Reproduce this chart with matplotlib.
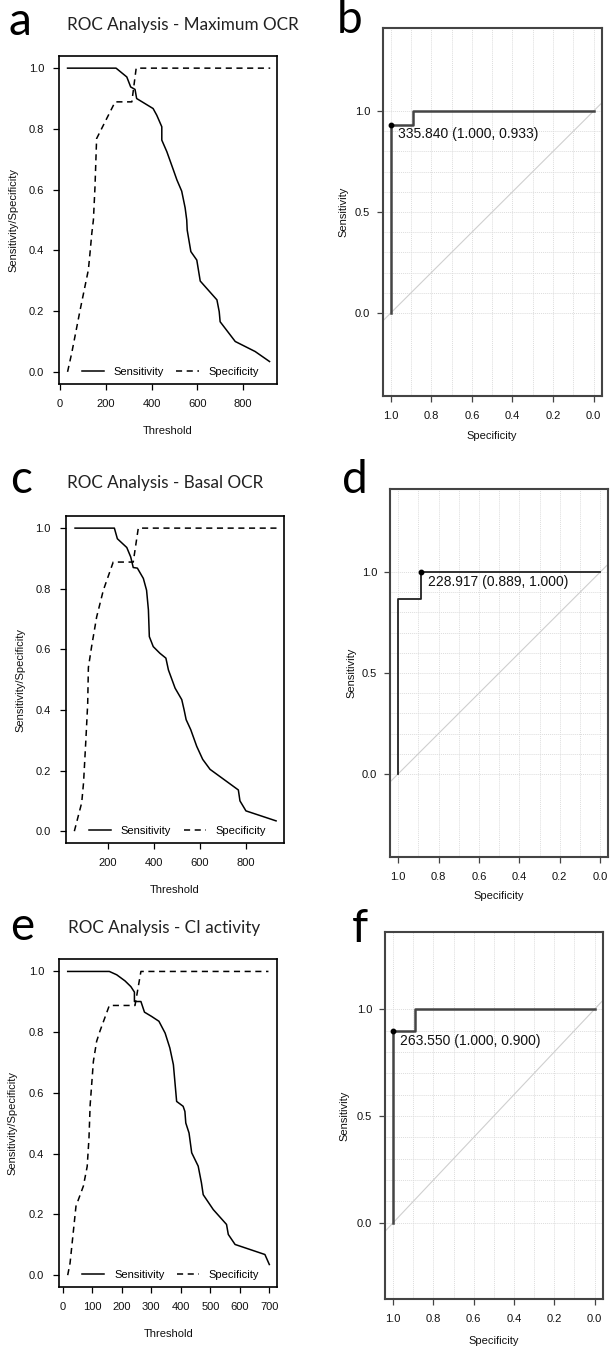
import matplotlib
matplotlib.use("Agg")
import matplotlib.pyplot as plt
import numpy as np

# ---------------- data ----------------
# Panel a: Maximum OCR
a_sens_thr = [33, 245, 292, 309, 328, 335, 407, 423, 445, 445, 467, 496, 511, 532, 547, 554, 556, 572, 598, 613, 686, 696, 700, 766, 853, 916]
a_sens = [1.0, 1.0, 0.971, 0.938, 0.93, 0.9, 0.867, 0.845, 0.807, 0.763, 0.725, 0.664, 0.632, 0.595, 0.54, 0.5, 0.467, 0.396, 0.368, 0.299, 0.237, 0.198, 0.165, 0.1, 0.067, 0.034]
a_spec_thr = [33, 51, 88, 109, 124, 131, 139, 146, 153, 160, 168, 241, 314, 333, 919]
a_spec = [0.0, 0.061, 0.204, 0.281, 0.336, 0.39, 0.456, 0.5, 0.61, 0.768, 0.78, 0.889, 0.889, 1.0, 1.0]

# Panel c: Basal OCR
c_sens_thr = [58, 229, 242, 283, 300, 311, 329, 355, 369, 377, 381, 398, 427, 453, 464, 493, 522, 532, 541, 561, 587, 613, 645, 768, 775, 801, 932]
c_sens = [1.0, 1.0, 0.965, 0.936, 0.905, 0.87, 0.868, 0.834, 0.795, 0.73, 0.642, 0.609, 0.587, 0.571, 0.532, 0.472, 0.434, 0.401, 0.368, 0.335, 0.28, 0.237, 0.204, 0.136, 0.1, 0.067, 0.034]
c_spec_thr = [55, 87, 95, 105, 113, 116, 130, 152, 181, 224, 311, 333, 935]
c_spec = [0.0, 0.094, 0.16, 0.3, 0.42, 0.54, 0.609, 0.707, 0.795, 0.888, 0.888, 1.0, 1.0]

# Panel e: CI activity
e_sens_thr = [17, 158, 183, 211, 231, 243, 243, 265, 277, 301, 326, 347, 363, 375, 386, 408, 414, 417, 428, 437, 459, 470, 476, 510, 555, 561, 584, 685, 700]
e_sens = [1.0, 1.0, 0.989, 0.969, 0.95, 0.932, 0.901, 0.901, 0.866, 0.852, 0.836, 0.797, 0.748, 0.693, 0.572, 0.556, 0.539, 0.501, 0.468, 0.403, 0.359, 0.304, 0.265, 0.216, 0.167, 0.134, 0.101, 0.068, 0.035]
e_spec_thr = [17, 25, 45, 70, 83, 89, 93, 104, 115, 126, 158, 245, 265, 697]
e_spec = [0.0, 0.04, 0.227, 0.293, 0.358, 0.45, 0.56, 0.704, 0.77, 0.803, 0.888, 0.888, 1.0, 1.0]

# ROC curves (specificity, sensitivity)
b_roc_spec = [1.0, 1.0, 0.889, 0.889, 0.0]
b_roc_sens = [0.0, 0.933, 0.933, 1.0, 1.0]
d_roc_spec = [1.0, 1.0, 0.889, 0.889, 0.0]
d_roc_sens = [0.0, 0.867, 0.867, 1.0, 1.0]
f_roc_spec = [1.0, 1.0, 0.889, 0.889, 0.0]
f_roc_sens = [0.0, 0.9, 0.9, 1.0, 1.0]

b_best = (1.000, 0.933, "335.840 (1.000, 0.933)")
d_best = (0.889, 1.000, "228.917 (0.889, 1.000)")
f_best = (1.000, 0.900, "263.550 (1.000, 0.900)")

titles = ["ROC Analysis - Maximum OCR", "ROC Analysis - Basal OCR", "ROC Analysis - CI activity"]
letters = ["a", "b", "c", "d", "e", "f"]

# ---------------- figure ----------------
W, H = 610, 1347
fig = plt.figure(figsize=(W / 100, H / 100), dpi=100)
fig.patch.set_facecolor("white")

TICKFONT = "Liberation Sans"
GOTHIC = "Lato"


def px_axes(left, top, right, bottom):
    return fig.add_axes([left / W, 1 - bottom / H, (right - left) / W, (bottom - top) / H])


def style_r(ax, color="black", lw=1.2):
    for s in ax.spines.values():
        s.set_color(color)
        s.set_linewidth(lw)
    ax.tick_params(direction="out", length=4.3, width=0.9, color=color,
                   labelsize=8, labelcolor="#111111", pad=6.5)
    for lab in ax.get_xticklabels() + ax.get_yticklabels():
        lab.set_fontfamily(TICKFONT)


def thr_panel(ax, sthr, sens, pthr, spec, xlim, xticks, xlab_y, ylab_x, leg_x):
    ax.plot(sthr, sens, color="black", lw=1.1, label="Sensitivity")
    ax.plot(pthr, spec, color="black", lw=1.1, ls=(0, (4, 3)), label="Specificity")
    ax.set_xlim(*xlim)
    ax.set_ylim(-0.04, 1.04)
    ax.set_xticks(xticks)
    ax.set_yticks([0.0, 0.2, 0.4, 0.6, 0.8, 1.0])
    ax.set_yticklabels(["0.0", "0.2", "0.4", "0.6", "0.8", "1.0"])
    style_r(ax, "black", 1.2)
    ax.set_xlabel("Threshold", fontsize=8, family=TICKFONT, color="#111111")
    ax.xaxis.label.set_va("center")
    ax.xaxis.set_label_coords(0.5, xlab_y)
    ax.set_ylabel("Sensitivity/Specificity", fontsize=8, family=TICKFONT, color="#111111")
    ax.yaxis.label.set_va("center")
    ax.yaxis.set_label_coords(ylab_x, 0.5)
    ax.legend(loc="center", bbox_to_anchor=(leg_x, 0.037), ncol=2, frameon=False,
              prop={"family": TICKFONT, "size": 8}, handlelength=2.0,
              handletextpad=0.9, columnspacing=1.1, borderpad=0, borderaxespad=0)


def roc_panel(ax, rspec, rsens, best, ylim, xlab_y, ylab_x, col, lw):
    ax.set_xlim(1.04, -0.04)
    ax.set_ylim(*ylim)
    grid_vals = np.round(np.arange(0, 1.01, 0.1), 1)
    for g in grid_vals:
        ax.axvline(g, color="#DDDDDD", lw=0.7, ls=(0, (1, 1)), zorder=0)
        ax.axhline(g, color="#DDDDDD", lw=0.7, ls=(0, (1, 1)), zorder=0)
    ax.axline((1.0, 0.0), (0.0, 1.0), color="#CFCFCF", lw=0.8, zorder=1)
    ax.plot(rspec, rsens, color=col, lw=lw, zorder=3)
    ax.plot([best[0]], [best[1]], "o", color="black", ms=3.2, zorder=4)
    ax.text(best[0] - 0.035, best[1] - 0.048, best[2], fontsize=10, family=TICKFONT,
            color="#111111", ha="left", va="center", zorder=5)
    ax.set_xticks([1.0, 0.8, 0.6, 0.4, 0.2, 0.0])
    ax.set_xticklabels(["1.0", "0.8", "0.6", "0.4", "0.2", "0.0"])
    ax.set_yticks([0.0, 0.5, 1.0])
    ax.set_yticklabels(["0.0", "0.5", "1.0"])
    style_r(ax, "#444444", 1.5)
    ax.tick_params(axis="y", pad=4.8)
    ax.set_xlabel("Specificity", fontsize=8, family=TICKFONT, color="#111111")
    ax.xaxis.label.set_va("center")
    ax.xaxis.set_label_coords(0.5, xlab_y)
    ax.set_ylabel("Sensitivity", fontsize=8, family=TICKFONT, color="#111111")
    ax.yaxis.label.set_va("center")
    ax.yaxis.set_label_coords(ylab_x, 0.5)


ax_a = px_axes(59, 56, 277, 384)
thr_panel(ax_a, a_sens_thr, a_sens, a_spec_thr, a_spec, (-4.4, 948.6),
          [0, 200, 400, 600, 800], -0.142, -0.211, 0.511)

ax_c = px_axes(65.7, 516, 284, 843.3)
thr_panel(ax_c, c_sens_thr, c_sens, c_spec_thr, c_spec, (17.4, 966.5),
          [200, 400, 600, 800], -0.143, -0.209, 0.512)

ax_e = px_axes(59, 959.3, 277.3, 1287.3)
thr_panel(ax_e, e_sens_thr, e_sens, e_spec_thr, e_spec, (-12.5, 727),
          [0, 100, 200, 300, 400, 500, 600, 700], -0.143, -0.211, 0.511)

ax_b = px_axes(382.7, 28.3, 601.7, 395.7)
roc_panel(ax_b, b_roc_spec, b_roc_sens, b_best, (-0.41, 1.41), -0.11, -0.181, "#444444", 1.8)

ax_d = px_axes(390, 489.3, 608.3, 856.7)
roc_panel(ax_d, d_roc_spec, d_roc_sens, d_best, (-0.41, 1.41), -0.107, -0.175, "#222222", 1.3)

ax_f = px_axes(385, 932, 602.7, 1299.3)
roc_panel(ax_f, f_roc_spec, f_roc_sens, f_best, (-0.358, 1.361), -0.114, -0.184, "#444444", 1.8)

# titles and panel letters (pixel positions)
def ftext(x, y, s, **kw):
    fig.text(x / W, 1 - y / H, s, **kw)

ftext(67, 25, titles[0], fontsize=12.3, family=GOTHIC, color="#222222", ha="left", va="center")
ftext(67, 483, titles[1], fontsize=12.3, family=GOTHIC, color="#222222", ha="left", va="center")
ftext(68, 928, titles[2], fontsize=12.3, family=GOTHIC, color="#222222", ha="left", va="center")

ftext(8, 35, letters[0], fontsize=33, family=GOTHIC, color="black", ha="left", va="baseline")
ftext(337, 33, letters[1], fontsize=33, family=GOTHIC, color="black", ha="left", va="baseline")
ftext(10, 493, letters[2], fontsize=33, family=GOTHIC, color="black", ha="left", va="baseline")
ftext(342, 493, letters[3], fontsize=33, family=GOTHIC, color="black", ha="left", va="baseline")
ftext(10, 940, letters[4], fontsize=33, family=GOTHIC, color="black", ha="left", va="baseline")
ftext(352, 942, letters[5], fontsize=33, family=GOTHIC, color="black", ha="left", va="baseline")

fig.savefig("out.png", dpi=100, facecolor="white")
